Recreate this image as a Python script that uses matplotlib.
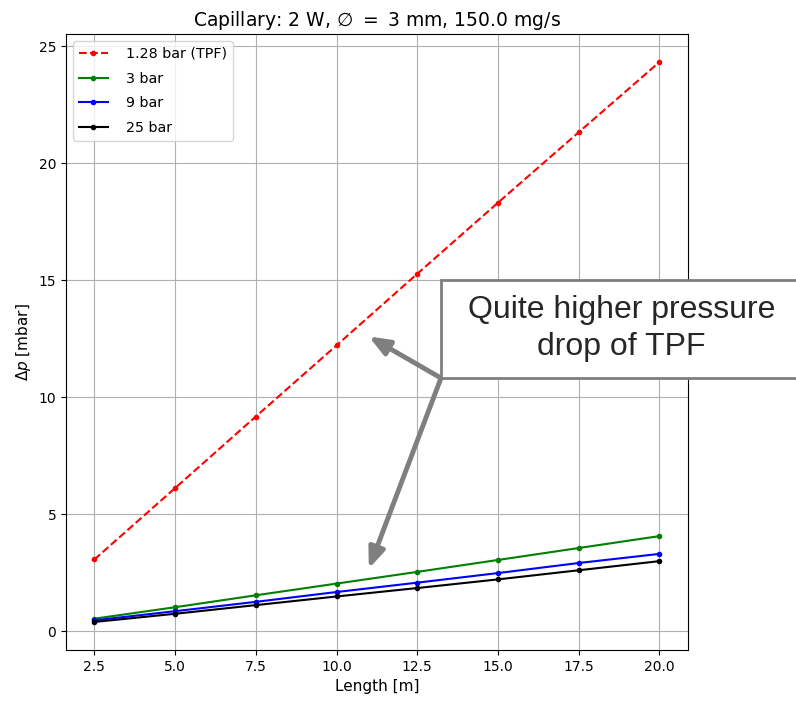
import matplotlib
matplotlib.use("Agg")
from matplotlib import pyplot as plt
from matplotlib.patches import Rectangle

# channel length [m]
length = [2.5, 5.0, 7.5, 10.0, 12.5, 15.0, 17.5, 20.0]

# pressure drop [mbar] for each pressure
dp_tpf = [3.07, 6.12, 9.18, 12.22, 15.28, 18.32, 21.33, 24.33]
dp_3bar = [0.54, 1.03, 1.54, 2.04, 2.54, 3.05, 3.56, 4.07]
dp_9bar = [0.47, 0.86, 1.26, 1.68, 2.08, 2.49, 2.92, 3.31]
dp_25bar = [0.40, 0.75, 1.12, 1.49, 1.85, 2.22, 2.61, 3.00]

labels = ["1.28 bar (TPF)", "3 bar", "9 bar", "25 bar"]
xticks = [2.5, 5.0, 7.5, 10.0, 12.5, 15.0, 17.5, 20.0]
yticks = [0, 5, 10, 15, 20, 25]

plt.rcParams["mathtext.fontset"] = "dejavusans"

fig = plt.figure(figsize=(7.96, 7.01), dpi=100)
ax = fig.add_axes([0.083, 0.0728, 0.781, 0.8787])

ax.plot(length, dp_tpf, "r.--", label=labels[0])
ax.plot(length, dp_3bar, "g.-", label=labels[1])
ax.plot(length, dp_9bar, "b.-", label=labels[2])
ax.plot(length, dp_25bar, "k.-", label=labels[3])

ax.set_xticks(xticks)
ax.set_xticklabels(["%.1f" % t for t in xticks])
ax.set_yticks(yticks)
ax.grid(True)
ax.legend(loc="upper left", fontsize=10.3, labelspacing=0.75, handletextpad=1.3)
ax.set_xlabel("Length [m]", fontsize=11)
ax.set_ylabel(r"$\Delta p$ [mbar]", fontsize=11)
ax.set_title(r"Capillary: 2 W, $\varnothing\ =\ 3$ mm, 150.0 mg/s", fontsize=13.5)

# callout box + arrows
box = Rectangle((0.554, 0.4607), 0.5, 0.14, transform=fig.transFigure,
                facecolor="white", edgecolor="#7f7f7f", lw=2, zorder=5)
fig.patches.append(box)
fig.text(0.781, 0.531, "Quite higher pressure\ndrop of TPF", ha="center", va="center",
         fontsize=23, family="Liberation Sans", color="#262626", zorder=6,
         linespacing=1.3)

for target in [(11.0, 12.6), (11.0, 2.68)]:
    ax.annotate("", xy=target, xytext=(0.554, 0.4607), textcoords="figure fraction",
                annotation_clip=False,
                arrowprops=dict(arrowstyle="-|>,head_length=0.55,head_width=0.22",
                                color="#7f7f7f", lw=3.5,
                                mutation_scale=22, shrinkA=0, shrinkB=0))

fig.savefig("out.png", dpi=100)
